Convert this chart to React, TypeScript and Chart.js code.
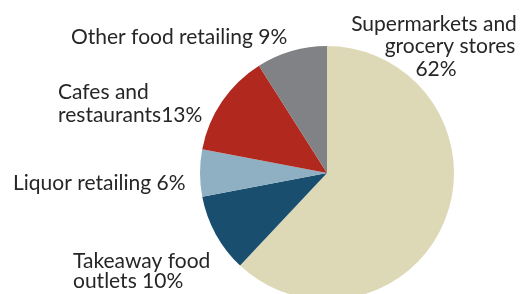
import React, { useEffect, useRef } from "react";
import { Chart, registerables } from "chart.js";

Chart.register(...registerables);

const categories = [
  "Supermarkets and grocery stores",
  "Takeaway food outlets",
  "Liquor retailing",
  "Cafes and restaurants",
  "Other food retailing",
];
const shares = [62, 10, 6, 13, 9];
const colors = ["#DDD9B6", "#1A4E6E", "#8FB0C2", "#B1291E", "#808285"];

const labelLines = [
  ["Supermarkets and", "grocery stores", "62%"],
  ["Takeaway food", "outlets 10%"],
  ["Liquor retailing 6%"],
  ["Cafes and", "restaurants13%"],
  ["Other food retailing 9%"],
];

// layout: [x, baseline y, align] per line
const labelLayout: [number, number, CanvasTextAlign][][] = [
  [[434, 31, "center"], [450, 53, "center"], [436, 76, "center"]],
  [[73, 268, "left"], [73, 288, "left"]],
  [[13, 190, "left"]],
  [[58, 99, "left"], [58, 122, "left"]],
  [[71, 44, "left"]],
];

const labelPlugin = {
  id: "pieLabels",
  afterDraw(chart: any) {
    const ctx = chart.ctx;
    ctx.save();
    ctx.fillStyle = "#262626";
    ctx.font = "21px Lato";
    ctx.textBaseline = "alphabetic";
    labelLines.forEach((lines, i) => {
      lines.forEach((line, j) => {
        const [x, y, align] = labelLayout[i][j];
        ctx.textAlign = align;
        ctx.fillText(line, x, y);
      });
    });
    ctx.restore();
  },
};

export default function App() {
  const ref = useRef<HTMLCanvasElement>(null);
  useEffect(() => {
    if (!ref.current) return;
    const chart = new Chart(ref.current, {
      type: "pie",
      data: {
        labels: categories,
        datasets: [
          {
            data: shares,
            backgroundColor: colors,
            borderWidth: 0,
          },
        ],
      },
      options: {
        animation: false,
        responsive: false,
        layout: { padding: { left: 200, right: 70, top: 46, bottom: 46 } },
        plugins: {
          legend: { display: false },
          tooltip: { enabled: false },
        },
      },
      plugins: [labelPlugin],
    });
    return () => chart.destroy();
  }, []);
  return (
    <div style={{ position: "fixed", left: 0, top: 0, width: 524, height: 346, background: "#fff" }}>
      <canvas ref={ref} width={524} height={346} style={{ width: 524, height: 346 }} />
    </div>
  );
}
